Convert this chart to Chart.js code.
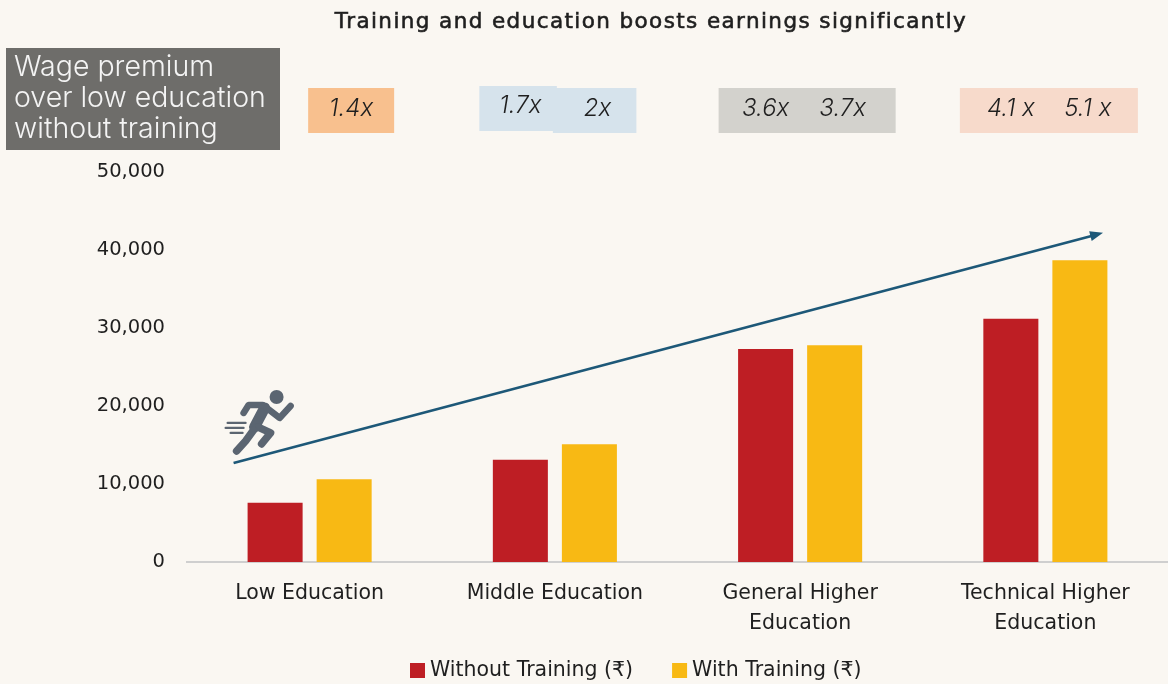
<!DOCTYPE html>
<html><head><meta charset="utf-8">
<script src="https://cdn.jsdelivr.net/npm/chart.js@4"></script>
<style>html,body{margin:0;padding:0;background:#faf7f2;overflow:hidden}
#wrap{position:relative;width:1168px;height:684px}</style></head>
<body><div id="wrap"><canvas id="c" width="1168" height="684"></canvas></div>
<script>
// ---- data ----
const categories = ["Low Education", "Middle Education", ["General Higher", "Education"], ["Technical Higher", "Education"]];
const withoutTraining = [7600, 13100, 27300, 31200];
const withTraining = [10600, 15100, 27800, 38700];
const premiumWithout = ["", "1.7x", "3.6x", "4.1 x"];
const premiumWith = ["1.4x", "2x", "3.7x", "5.1 x"];
const yTicks = [0, 10000, 20000, 30000, 40000, 50000];
const seriesNames = ["Without Training (\u20B9)", "With Training (\u20B9)"];
const titleText = "Training and education boosts earnings significantly";
const premiumHeading = ["Wage premium", "over low education", "without training"];
const trendFrom = [-0.31, 12700];   // [category index, value]
const trendTo = [3.235, 42200];

// ---- styles ----
const FONT = "'DejaVu Sans', sans-serif";
const LIGHT = "Inter, 'Open Sans', sans-serif";
const RED = "#be1e24", YELLOW = "#f8b914";
const boxColors = ["#f8c08e", "#d6e3ec", "#d3d2cd", "#f7dacb"];
const boxLeftPad = [36, 41, 47, 51];
const boxRightPad = [50, 47, 61, 58];
const TEXT = "#1f1f1f";

const decor = {
  id: "decor",
  afterDraw(chart) {
    const ctx = chart.ctx, xs = chart.scales.x, ys = chart.scales.y;
    const m0 = chart.getDatasetMeta(0), m1 = chart.getDatasetMeta(1);
    ctx.save();
    // title
    ctx.fillStyle = TEXT; ctx.strokeStyle = TEXT; ctx.textAlign = "center"; ctx.textBaseline = "middle";
    ctx.font = "21.5px " + FONT;
    ctx.letterSpacing = "1.4px";
    ctx.lineWidth = 0.6;
    ctx.fillText(titleText, 651, 22);
    ctx.strokeText(titleText, 651, 22);
    ctx.letterSpacing = "0px";
    // heading box
    ctx.fillStyle = "#6e6d6a";
    ctx.fillRect(6, 48, 274, 102);
    ctx.fillStyle = "#f4f4f4"; ctx.textAlign = "left";
    ctx.font = "300 28.5px " + LIGHT;
    premiumHeading.forEach((t, i) => ctx.fillText(t, 14, 67 + i * 31));
    // premium boxes
    categories.forEach((c, i) => {
      const xw = m1.data[i].x, xo = m0.data[i].x;
      ctx.fillStyle = boxColors[i];
      if (premiumWithout[i]) {
        const L = xo - boxLeftPad[i], R = xw + boxRightPad[i];
        if (i === 1) {
          ctx.fillRect(L, 86, (xo + xw) / 2 - L + 2, 45);
          ctx.fillRect((xo + xw) / 2 - 2, 88, R - (xo + xw) / 2 + 2, 45);
        } else ctx.fillRect(L, 88, R - L, 45);
      } else {
        ctx.fillRect(xw - boxLeftPad[i], 88, boxLeftPad[i] + boxRightPad[i], 45);
      }
      ctx.fillStyle = TEXT; ctx.textAlign = "center";
      ctx.font = "italic 300 24px " + LIGHT;
      if (premiumWithout[i]) ctx.fillText(premiumWithout[i], xo, i === 1 ? 106 : 109);
      ctx.fillText(premiumWith[i], xw + (i === 0 ? 7 : 8), 109);
    });
    // trend arrow
    const cw = (xs.getPixelForValue(1) - xs.getPixelForValue(0));
    const x1 = xs.getPixelForValue(0) + trendFrom[0] * cw, y1 = ys.getPixelForValue(trendFrom[1]);
    const x2 = xs.getPixelForValue(0) + trendTo[0] * cw, y2 = ys.getPixelForValue(trendTo[1]);
    const ang = Math.atan2(y2 - y1, x2 - x1);
    ctx.strokeStyle = "#1d5878"; ctx.fillStyle = "#1d5878"; ctx.lineWidth = 2.6;
    ctx.beginPath(); ctx.moveTo(x1, y1);
    ctx.lineTo(x2 - 9 * Math.cos(ang), y2 - 9 * Math.sin(ang)); ctx.stroke();
    ctx.beginPath(); ctx.moveTo(x2, y2);
    ctx.lineTo(x2 - 13 * Math.cos(ang) + 5 * Math.sin(ang), y2 - 13 * Math.sin(ang) - 5 * Math.cos(ang));
    ctx.lineTo(x2 - 13 * Math.cos(ang) - 5 * Math.sin(ang), y2 - 13 * Math.sin(ang) + 5 * Math.cos(ang));
    ctx.closePath(); ctx.fill();
    // runner icon
    const ox = x1, oy = y1;
    ctx.strokeStyle = "#5b6571"; ctx.fillStyle = "#5b6571";
    ctx.lineCap = "round"; ctx.lineJoin = "round";
    ctx.beginPath(); ctx.arc(ox + 43, oy - 66, 7, 0, Math.PI * 2); ctx.fill();
    const poly = (pts, w) => { ctx.lineWidth = w; ctx.beginPath(); ctx.moveTo(ox + pts[0][0], oy + pts[0][1]); pts.slice(1).forEach(p => ctx.lineTo(ox + p[0], oy + p[1])); ctx.stroke(); };
    poly([[31, -55], [21, -36]], 11);
    poly([[29, -58], [15, -58], [10, -50]], 6.5);
    poly([[33, -55], [46, -45], [57, -57]], 6.5);
    poly([[24, -36], [37, -30], [28, -19]], 7.5);
    poly([[20, -33], [12, -22], [3, -12]], 7.5);
    poly([[-6, -40], [12, -40]], 2.2);
    poly([[-8, -35], [10, -35]], 2.2);
    poly([[-3, -30], [9, -30]], 2.2);
    // legend
    ctx.font = "20.5px " + FONT; ctx.textAlign = "left";
    let lx = 410;
    chart.data.datasets.forEach(ds => {
      ctx.fillStyle = ds.backgroundColor;
      ctx.fillRect(lx, 663, 15, 15);
      ctx.fillStyle = TEXT;
      ctx.fillText(ds.label, lx + 20, 671);
      lx += 20 + ctx.measureText(ds.label).width + 39;
    });
    ctx.restore();
  }
};

new Chart(document.getElementById("c"), {
  type: "bar",
  data: {
    labels: categories,
    datasets: [
      { label: seriesNames[0], data: withoutTraining, backgroundColor: RED, borderWidth: 0 },
      { label: seriesNames[1], data: withTraining, backgroundColor: YELLOW, borderWidth: 0 }
    ]
  },
  options: {
    responsive: false, animation: false,
    categoryPercentage: 0.563, barPercentage: 0.797,
    layout: { padding: { top: 172, left: 0, right: 0, bottom: 0 } },
    plugins: {
      tooltip: { enabled: false },
      title: { display: false },
      legend: { display: false }
    },
    scales: {
      x: {
        grid: { display: false, drawTicks: false },
        border: { display: true, color: "#cfcfcf", width: 2 },
        ticks: { color: TEXT, font: { family: FONT, size: 20.5, lineHeight: 1.46 }, padding: 17, maxRotation: 0 },
        afterFit(s) { s.height = 122; }
      },
      y: {
        min: 0, max: 50000,
        grid: { display: false, drawTicks: false },
        border: { display: false },
        afterBuildTicks(s) { s.ticks = yTicks.map(v => ({ value: v })); },
        ticks: { color: TEXT, font: { family: FONT, size: 19.5 }, padding: 22, callback: v => v.toLocaleString("en-US") },
        afterFit(s) { s.width = 187; }
      }
    }
  },
  plugins: [decor]
});
</script></body></html>
